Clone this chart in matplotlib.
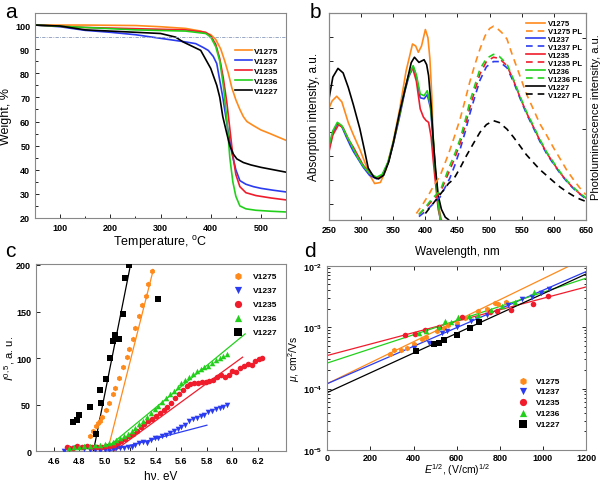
import numpy as np
import matplotlib
matplotlib.use('Agg')
import matplotlib.pyplot as plt
from matplotlib.lines import Line2D

plt.rcParams['font.family'] = ['Liberation Sans', 'DejaVu Sans']
plt.rcParams['mathtext.fontset'] = 'custom'
plt.rcParams['mathtext.rm'] = 'Liberation Sans'
plt.rcParams['mathtext.it'] = 'Liberation Sans:italic'
plt.rcParams['mathtext.bf'] = 'Liberation Sans:bold'

names = ['V1275', 'V1237', 'V1235', 'V1236', 'V1227']
colors = ['#ff8a1c', '#2b3cf0', '#f01c2c', '#22d01c', '#000000']

# ---- a: TGA ----
t_1275 = [50, 100, 150, 200, 250, 300, 350, 380, 400, 410, 420, 428, 435, 442, 450, 458, 465, 472, 485, 500, 518, 535, 550]
w_1275 = [100, 100, 100, 99.9, 99.8, 99.3, 98.6, 97.5, 96, 94, 90, 85, 80, 74, 69, 65, 62, 60, 58.3, 56.5, 55, 53.5, 52.2]
t_1237 = [50, 100, 150, 200, 250, 300, 350, 370, 385, 395, 405, 412, 418, 424, 433, 442, 450, 458, 470, 485, 500, 525, 550]
w_1237 = [100, 99.3, 97.8, 97, 96, 94.5, 93, 92.3, 90.7, 89.5, 87, 84, 77, 70, 58, 47, 40, 35.5, 34, 33, 32.3, 31.5, 30.8]
t_1235 = [50, 150, 250, 350, 390, 400, 410, 418, 425, 432, 438, 444, 450, 458, 470, 490, 520, 550]
w_1235 = [100, 99, 98.5, 98, 97, 95.5, 92, 86, 78, 68, 57, 46, 38, 33, 30.5, 29.3, 28.3, 27.5]
t_1236 = [50, 150, 250, 350, 390, 400, 410, 418, 425, 432, 438, 444, 450, 458, 470, 490, 520, 550]
w_1236 = [100, 99, 98, 97.5, 96.5, 95, 91, 85, 75, 61, 45, 35, 29, 25, 23.8, 23.2, 22.8, 22.5]
t_1227 = [50, 100, 150, 200, 250, 300, 330, 345, 360, 380, 392, 400, 412, 418, 424, 432, 438, 445, 452, 465, 480, 500, 525, 550]
w_1227 = [100, 99.6, 98, 97.5, 97, 96.5, 95, 93, 91.5, 89.5, 85, 82, 75, 70, 62, 55, 50, 46.5, 44.5, 43, 42, 41, 40, 39]

# ---- b: absorption / PL ----
wl_abs_1275 = [250, 255, 262, 270, 280, 288, 298, 308, 314, 321, 330, 339, 350, 360, 370, 380, 385, 389, 394, 400, 404, 407, 410, 412, 416, 420, 425]
abs_1275 = [0.54, 0.575, 0.597, 0.57, 0.47, 0.41, 0.34, 0.26, 0.213, 0.175, 0.18, 0.245, 0.38, 0.535, 0.72, 0.85, 0.84, 0.81, 0.84, 0.92, 0.88, 0.78, 0.6, 0.41, 0.2, 0.07, 0.0]
wl_abs_g = [250, 256, 263, 270, 277, 283, 288, 295, 303, 313, 324, 333, 342, 350, 360, 368, 374, 381, 386, 392, 398, 403, 408, 412, 415, 419, 423]
abs_1237 = [0.345, 0.42, 0.465, 0.45, 0.40, 0.36, 0.33, 0.295, 0.255, 0.215, 0.198, 0.215, 0.275, 0.365, 0.50, 0.62, 0.69, 0.74, 0.69, 0.59, 0.585, 0.605, 0.54, 0.39, 0.25, 0.11, 0.0]
abs_1236 = [0.36, 0.43, 0.471, 0.455, 0.41, 0.374, 0.342, 0.30, 0.261, 0.225, 0.205, 0.22, 0.28, 0.374, 0.51, 0.63, 0.697, 0.745, 0.70, 0.608, 0.60, 0.624, 0.552, 0.40, 0.261, 0.12, 0.0]
wl_abs_1235 = [250, 256, 265, 272, 280, 288, 295, 303, 313, 324, 333, 342, 350, 360, 368, 374, 380, 386, 392, 397, 401, 405, 409, 412, 416, 420, 424]
abs_1235 = [0.33, 0.41, 0.46, 0.445, 0.39, 0.35, 0.31, 0.265, 0.225, 0.20, 0.215, 0.275, 0.37, 0.51, 0.63, 0.70, 0.735, 0.67, 0.536, 0.496, 0.48, 0.471, 0.40, 0.294, 0.17, 0.05, 0.0]
wl_abs_1227 = [250, 256, 264, 272, 280, 288, 298, 305, 311, 320, 327, 335, 343, 350, 360, 371, 378, 383, 390, 398, 402, 405, 409, 412.5, 416, 420, 425, 431, 436]
abs_1227 = [0.585, 0.69, 0.732, 0.71, 0.64, 0.555, 0.44, 0.34, 0.25, 0.205, 0.197, 0.215, 0.28, 0.37, 0.52, 0.665, 0.76, 0.786, 0.761, 0.774, 0.75, 0.697, 0.55, 0.374, 0.24, 0.116, 0.05, 0.012, 0.0]

wl_pl_1275 = [386, 395, 405, 413, 423, 436, 445, 454, 462, 469, 477, 485, 493, 500, 506, 512, 519, 527, 535, 547, 557, 568, 578, 589, 600, 610, 620, 630, 640, 650]
pl_1275 = [0.03, 0.07, 0.12, 0.164, 0.213, 0.318, 0.40, 0.487, 0.58, 0.665, 0.75, 0.826, 0.89, 0.925, 0.936, 0.925, 0.905, 0.874, 0.80, 0.697, 0.61, 0.535, 0.465, 0.407, 0.345, 0.293, 0.24, 0.196, 0.155, 0.12]
wl_pl_g = [390, 400, 410, 423, 438, 446, 454, 462, 469, 477, 485, 495, 506, 515, 527, 537, 547, 557, 568, 578, 589, 600, 610, 620, 630, 640, 650]
pl_1237 = [0.015, 0.04, 0.07, 0.11, 0.20, 0.265, 0.34, 0.425, 0.51, 0.595, 0.675, 0.74, 0.765, 0.765, 0.735, 0.668, 0.59, 0.515, 0.445, 0.38, 0.318, 0.267, 0.223, 0.185, 0.152, 0.125, 0.10]
pl_1235 = [0.025, 0.055, 0.09, 0.13, 0.24, 0.30, 0.37, 0.455, 0.54, 0.625, 0.705, 0.765, 0.786, 0.78, 0.745, 0.675, 0.595, 0.52, 0.45, 0.385, 0.322, 0.27, 0.226, 0.187, 0.154, 0.127, 0.103]
pl_1236 = [0.025, 0.06, 0.10, 0.14, 0.261, 0.32, 0.39, 0.48, 0.568, 0.65, 0.729, 0.78, 0.80, 0.79, 0.753, 0.68, 0.60, 0.525, 0.455, 0.39, 0.326, 0.275, 0.229, 0.19, 0.157, 0.13, 0.105]
wl_pl_1227 = [400, 410, 420, 430, 436, 444, 454, 464, 475, 485, 495, 506, 515, 527, 537, 547, 557, 568, 578, 589, 600, 610, 620, 630, 640, 650]
pl_1227 = [0.03, 0.07, 0.11, 0.15, 0.175, 0.196, 0.25, 0.31, 0.37, 0.423, 0.46, 0.479, 0.47, 0.438, 0.40, 0.358, 0.315, 0.277, 0.243, 0.213, 0.183, 0.157, 0.135, 0.116, 0.10, 0.088]

# ---- c: photoemission ----
hv_1275 = [4.88, 4.91, 4.93, 4.95, 4.96, 4.98, 5.01, 5.03, 5.06, 5.08, 5.11, 5.14, 5.17, 5.19, 5.22, 5.24, 5.27, 5.29, 5.32, 5.34, 5.37]
i_1275 = [16, 22, 27, 30, 33, 37, 44, 52, 61, 68, 79, 90, 101, 110, 121, 132, 145, 157, 167, 180, 193]
hv_1237 = [4.68, 4.72, 4.76, 4.80, 4.84, 4.88, 4.92, 4.96, 5.00, 5.03, 5.06, 5.09, 5.12, 5.15, 5.18, 5.21, 5.24, 5.27, 5.30, 5.33, 5.36, 5.39, 5.42, 5.45, 5.48, 5.51, 5.54, 5.57, 5.60, 5.63, 5.66, 5.69, 5.72, 5.75, 5.78, 5.81, 5.84, 5.87, 5.90, 5.93, 5.96]
i_1237 = [0, 2, 4, 3, 2, 1, 1, 0, 1, 1, 2, 3, 3, 4, 5, 5, 7, 9, 10, 9, 12, 14, 14, 16, 17, 20, 22, 24, 26, 28, 33, 35, 36, 38, 39, 42, 43, 45, 46, 48, 50]
hv_1235 = [4.70, 4.72, 4.75, 4.78, 4.82, 4.86, 4.90, 4.94, 4.98, 5.01, 5.04, 5.07, 5.10, 5.13, 5.16, 5.19, 5.22, 5.25, 5.28, 5.31, 5.34, 5.37, 5.40, 5.43, 5.46, 5.49, 5.52, 5.55, 5.58, 5.61, 5.64, 5.67, 5.70, 5.73, 5.76, 5.79, 5.82, 5.85, 5.88, 5.91, 5.94, 5.97, 6.00, 6.03, 6.06, 6.09, 6.12, 6.15, 6.18, 6.21, 6.23]
i_1235 = [5, 4, 4, 6, 5, 6, 5, 5, 5, 6, 6, 7, 9, 11, 13, 16, 19, 22, 26, 29, 32, 35, 38, 41, 44, 48, 52, 57, 62, 66, 70, 72, 73, 73, 74, 74, 75, 77, 80, 82, 80, 82, 86, 85, 89, 91, 94, 93, 97, 99, 100]
hv_1236 = [4.72, 4.76, 4.80, 4.84, 4.88, 4.92, 4.96, 5.00, 5.03, 5.06, 5.09, 5.12, 5.15, 5.18, 5.21, 5.24, 5.27, 5.30, 5.33, 5.36, 5.39, 5.42, 5.45, 5.48, 5.51, 5.54, 5.57, 5.60, 5.63, 5.66, 5.69, 5.72, 5.75, 5.78, 5.81, 5.84, 5.87, 5.90, 5.93, 5.96]
i_1236 = [4, 5, 5, 6, 6, 7, 7, 8, 9, 10, 12, 14, 16, 19, 22, 25, 29, 33, 37, 41, 45, 49, 53, 57, 61, 65, 69, 73, 76, 80, 83, 86, 88, 90, 92, 95, 98, 100, 102, 104]
hv_1227 = [4.75, 4.78, 4.80, 4.88, 4.93, 4.96, 4.97, 5.01, 5.04, 5.06, 5.08, 5.11, 5.14, 5.16, 5.19, 5.42]
i_1227 = [31, 34, 39, 48, 19, 66, 52, 78, 100, 118, 125, 121, 147, 186, 200, 163]
# linear fits (end points)
fit_hv = {'V1275': [5.02, 5.38], 'V1237': [5.02, 5.80], 'V1235': [5.07, 6.08], 'V1236': [5.00, 6.10], 'V1227': [4.91, 5.195]}
fit_i = {'V1275': [0, 195], 'V1237': [0, 28], 'V1235': [0, 101], 'V1236': [2, 126], 'V1227': [0, 196]}

# ---- d: mobility ----
e_1275 = [290, 310, 340, 370, 400, 440, 460, 510, 540, 560, 600, 640, 700, 740, 780, 790, 830]
mu_1275 = [3.7e-4, 4.2e-4, 4.3e-4, 4.6e-4, 5.3e-4, 6.5e-4, 6.9e-4, 8.7e-4, 9.8e-4, 1.1e-3, 1.15e-3, 1.4e-3, 1.8e-3, 2.0e-3, 2.45e-3, 2.4e-3, 2.6e-3]
e_1237 = [404, 470, 530, 555, 600, 665, 695, 740, 840, 905, 950, 990, 1030]
mu_1237 = [4.6e-4, 5.6e-4, 8.0e-4, 8.5e-4, 1.0e-3, 1.25e-3, 1.35e-3, 1.6e-3, 2.3e-3, 2.9e-3, 3.1e-3, 3.6e-3, 4.2e-3]
e_1235 = [360, 405, 455, 520, 625, 755, 785, 850, 955, 1025]
mu_1235 = [7.3e-4, 7.6e-4, 9.0e-4, 1.02e-3, 1.45e-3, 1.78e-3, 1.85e-3, 1.9e-3, 2.4e-3, 3.2e-3]
e_1236 = [425, 460, 520, 545, 575, 605, 655, 700, 760, 810, 870, 960]
mu_1236 = [8.0e-4, 8.6e-4, 1.0e-3, 1.25e-3, 1.2e-3, 1.45e-3, 1.5e-3, 1.6e-3, 1.9e-3, 2.2e-3, 2.6e-3, 3.7e-3]
e_1227 = [410, 495, 520, 540, 600, 660, 705]
mu_1227 = [4.1e-4, 5.3e-4, 5.6e-4, 6.2e-4, 7.4e-4, 9.5e-4, 1.2e-3]
fit_e = [0, 1200]
fit_mu = {'V1275': [1.2e-4, 1.34e-2], 'V1237': [1.2e-4, 8.0e-3], 'V1235': [3.45e-4, 4.5e-3], 'V1236': [2.6e-4, 6.25e-3], 'V1227': [8.6e-5, 7.3e-3]}

markers = ['h', 'v', 'o', '^', 's']

fig = plt.figure(figsize=(6.04, 4.81), dpi=100)
spine_col = '#888888'
tick_kw = dict(labelsize=6.5, direction='in', colors='black', width=0.6, length=3)


def style(ax):
    for s in ax.spines.values():
        s.set_color(spine_col)
        s.set_linewidth(0.8)
    ax.tick_params(which='both', **tick_kw)
    ax.tick_params(which='minor', length=1.8)
    for lab in ax.get_xticklabels() + ax.get_yticklabels():
        lab.set_fontweight('bold')


# ---------------- a ----------------
ax = fig.add_axes([0.058, 0.5447, 0.4156, 0.4262])
tga = [(t_1275, w_1275), (t_1237, w_1237), (t_1235, w_1235), (t_1236, w_1236), (t_1227, w_1227)]
for (t, w), c, n in zip(tga, colors, names):
    ax.plot(t, w, color=c, lw=1.2, label=n)
ax.axhline(95, color='#8899bb', lw=0.6, ls=(0, (4, 1.5, 1, 1.5)))
ax.set_xlim(50, 550)
ax.set_ylim(20, 105)
ax.set_xticks([100, 200, 300, 400, 500])
ax.set_yticks([20, 30, 40, 50, 60, 70, 80, 90, 100])
ax.set_xticks(np.arange(50, 551, 50), minor=True)
ax.set_yticks(np.arange(20, 105, 5), minor=True)
ax.tick_params(top=False, right=False, which='both')
style(ax)
ax.set_xlabel('Temperature, $^{\\rm o}$C', fontsize=9, labelpad=1)
ax.set_ylabel('Weight, %', fontsize=9, labelpad=2)
ax.legend(loc='upper right', bbox_to_anchor=(1.0, 0.87), frameon=False, handlelength=2.0,
          handletextpad=0.3, labelspacing=0.25, prop={'size': 6, 'weight': 'bold'})
fig.text(0.008, 0.975, 'a', fontsize=15, va='center')

# ---------------- b ----------------
ax = fig.add_axes([0.5447, 0.5412, 0.4255, 0.4297])
ax2 = ax.twinx()
absd = [(wl_abs_1275, abs_1275), (wl_abs_g, abs_1237), (wl_abs_1235, abs_1235), (wl_abs_g, abs_1236), (wl_abs_1227, abs_1227)]
pld = [(wl_pl_1275, pl_1275), (wl_pl_g, pl_1237), (wl_pl_g, pl_1235), (wl_pl_g, pl_1236), (wl_pl_1227, pl_1227)]
handles = []
for (xa, ya), (xp, yp), c, n in zip(absd, pld, colors, names):
    ax.plot(xa, ya, color=c, lw=1.2)
    ax2.plot(xp, yp, color=c, lw=1.2, ls=(0, (4, 3)))
    handles.append(Line2D([], [], color=c, lw=1.2, label=n))
    handles.append(Line2D([], [], color=c, lw=1.2, ls=(0, (4, 3)), label=n + ' PL'))
for a_ in (ax, ax2):
    a_.set_xlim(250, 650)
    a_.set_ylim(0, 1.0)
ax.set_xticks(np.arange(250, 651, 50))
ax.set_yticks([1 - 0.1155 * k for k in range(9)])
ax.set_yticklabels([])
ax2.set_yticks([0.44, 0.88])
ax2.set_yticklabels([])
ax.tick_params(top=True)
style(ax)
style(ax2)
ax.set_ylabel('Absorption intensity, a.u.', fontsize=8.5, labelpad=3)
ax2.set_ylabel('Photoluminescence intensity, a.u.', fontsize=8)
ax2.yaxis.set_label_coords(1.02, 0.5)
ax.set_xlabel('Wavelength, nm', fontsize=8.5, labelpad=8)
ax2.legend(handles=handles, loc='upper right', bbox_to_anchor=(1.01, 1.0), frameon=False, handlelength=2.6,
           handletextpad=0.3, labelspacing=0.08, prop={'size': 5.5, 'weight': 'bold'})
fig.text(0.512, 0.975, 'b', fontsize=15, va='center')

# ---------------- c ----------------
ax = fig.add_axes([0.0596, 0.0597, 0.4139, 0.3894])
pes = [(hv_1275, i_1275), (hv_1237, i_1237), (hv_1235, i_1235), (hv_1236, i_1236), (hv_1227, i_1227)]
for (x, y), c, n, m in zip(pes, colors, names, markers):
    ax.plot(fit_hv[n], fit_i[n], color=c, lw=0.9)
    ax.scatter(x, y, color=c, marker=m, s=16, lw=0, label=n, zorder=3)
ax.set_xlim(4.46, 6.42)
ax.set_ylim(0, 201)
ax.set_xticks([4.6, 4.8, 5.0, 5.2, 5.4, 5.6, 5.8, 6.0, 6.2])
ax.set_yticks([0, 50, 100, 150, 200])
ax.xaxis.set_major_formatter(matplotlib.ticker.FormatStrFormatter('%.1f'))
style(ax)
ax.set_xlabel('h\u03bd, eV', fontsize=8.5, labelpad=3)
ax.set_ylabel('$I^{0,5}$, a. u.', fontsize=8)
ax.yaxis.set_label_coords(-0.075, 0.5)
ax.legend(loc='upper right', frameon=False, markerscale=1.3, handletextpad=0.8, labelspacing=0.75,
          borderaxespad=0.6, prop={'size': 6, 'weight': 'bold'})
fig.text(0.008, 0.478, 'c', fontsize=15, va='center')

# ---------------- d ----------------
ax = fig.add_axes([0.5419, 0.0625, 0.4283, 0.3831])
mob = [(e_1275, mu_1275), (e_1237, mu_1237), (e_1235, mu_1235), (e_1236, mu_1236), (e_1227, mu_1227)]
for (x, y), c, n, m in zip(mob, colors, names, markers):
    ax.plot(fit_e, fit_mu[n], color=c, lw=0.9)
    ax.scatter(x, y, color=c, marker=m, s=16, lw=0, label=n, zorder=3)
ax.set_yscale('log')
ax.set_xlim(0, 1200)
ax.set_ylim(1e-5, 1e-2)
ax.set_xticks([0, 200, 400, 600, 800, 1000, 1200])
ax.tick_params(top=True, right=True, which='both')
ax.tick_params(axis='x', pad=2)
style(ax)
ax.set_xlabel('$E^{1/2}$, (V/cm)$^{1/2}$', fontsize=7.5)
ax.xaxis.set_label_coords(0.5, -0.062)
ax.set_ylabel('$\\mu$, cm$^2$/Vs', fontsize=7.5, labelpad=1)
ax.legend(loc='lower right', bbox_to_anchor=(0.93, 0.08), frameon=False, markerscale=1.3, handletextpad=0.5,
          labelspacing=0.35, prop={'size': 6, 'weight': 'bold'})
fig.text(0.503, 0.478, 'd', fontsize=15, va='center')

fig.savefig('out.png', dpi=100)
